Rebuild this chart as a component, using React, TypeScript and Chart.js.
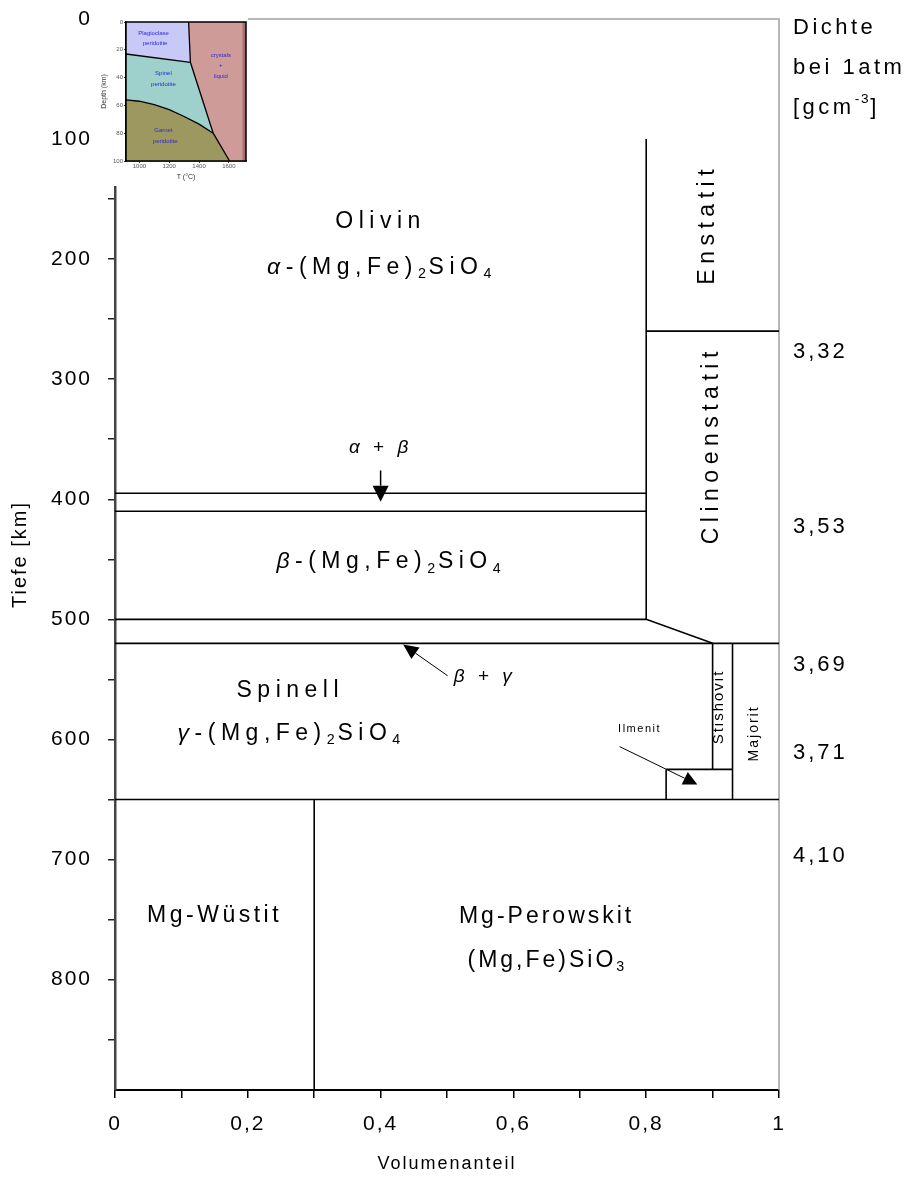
import React, { useEffect, useRef } from 'react';
import { Chart, registerables } from 'chart.js';

Chart.register(...registerables);

const FONT = '"Liberation Sans", Arial, sans-serif';

// ---------- main diagram: axes ----------
const xTickValues = [0, 0.1, 0.2, 0.3, 0.4, 0.5, 0.6, 0.7, 0.8, 0.9, 1];
const xTickLabels = ['0', '', '0,2', '', '0,4', '', '0,6', '', '0,8', '', '1'];
const yTickValues = [0, 50, 100, 150, 200, 250, 300, 350, 400, 450, 500, 550, 600, 650, 700, 750, 800, 850];
const yTickLabels = ['0', '', '100', '', '200', '', '300', '', '400', '', '500', '', '600', '', '700', '', '800', ''];
const depthMax = 892;

// ---------- phase boundaries [Volumenanteil, Tiefe km] ----------
const olivinBetaTop = [[0, 395], [0.8, 395]];
const olivinBetaBottom = [[0, 410], [0.8, 410]];
const betaGammaTop = [[0, 500], [0.8, 500], [0.9, 520]];
const betaGammaBottom = [[0, 520], [1, 520]];
const lowerMantleTop = [[0, 650], [1, 650]];
const pyroxeneBoundary = [[0.8, 100], [0.8, 500]];
const enstatitBase = [[0.8, 260], [1, 260]];
const stishovitLeft = [[0.9, 520], [0.9, 625]];
const majoritLeft = [[0.93, 520], [0.93, 650]];
const ilmenitTop = [[0.83, 625], [0.93, 625]];
const ilmenitLeft = [[0.83, 625], [0.83, 650]];
const wuestitRight = [[0.3, 650], [0.3, depthMax]];

const boundarySegments = [
  olivinBetaTop, olivinBetaBottom, betaGammaTop, betaGammaBottom, lowerMantleTop,
  pyroxeneBoundary, enstatitBase, stishovitLeft, majoritLeft, ilmenitTop, ilmenitLeft, wuestitRight,
];

// ---------- density column ----------
const densityLabels = ['3,32', '3,53', '3,69', '3,71', '4,10'];
const densityDepths = [277, 423, 538, 611, 697];
const densityHeader = ['Dichte', 'bei 1atm'];

// ---------- inset (peridotite phase diagram) ----------
const insetTempTicks = [1000, 1200, 1400, 1600];
const insetDepthTicks = [0, 20, 40, 60, 80, 100];
const insetTempMin = 910;
const insetTempMax = 1715;
const plagioclaseField = [[910, 0], [1330, 0], [1342, 29], [910, 23]];
const spinelField = [[910, 23], [1342, 29], [1495, 80], [1400, 73.5], [1300, 68], [1200, 63], [1100, 59.5], [1000, 57], [910, 56]];
const garnetField = [[910, 56], [1000, 57], [1100, 59.5], [1200, 63], [1300, 68], [1400, 73.5], [1495, 80], [1605, 100], [910, 100]];
const meltField = [[1330, 0], [1715, 0], [1715, 100], [1605, 100], [1495, 80], [1342, 29]];
const meltEdgeStrip = [[1692, 0], [1715, 0], [1715, 100], [1692, 100]];
const plagioclaseBoundary = [[910, 23], [1342, 29]];
const garnetBoundary = [[910, 56], [1000, 57], [1100, 59.5], [1200, 63], [1300, 68], [1400, 73.5], [1495, 80]];
const solidus = [[1330, 0], [1342, 29], [1495, 80], [1605, 100]];

type Seg = { t: string; s?: 'i' | 'sub' | 'sup' };

function segFont(size: number, s?: string) {
  const small = s === 'sub' || s === 'sup';
  const sz = small ? size * 0.62 : size;
  return `${s === 'i' ? 'italic ' : ''}${sz}px ${FONT}`;
}

function drawRich(ctx: any, segs: Seg[], x: number, y: number, size: number, spacing: number, align = 'center', rotate = 0) {
  ctx.save();
  ctx.translate(x, y);
  if (rotate) ctx.rotate(rotate);
  ctx.textBaseline = 'middle';
  ctx.textAlign = 'left';
  ctx.fillStyle = '#000';
  const widths: number[] = [];
  let total = 0;
  for (const g of segs) {
    ctx.font = segFont(size, g.s);
    ctx.letterSpacing = (g.s === 'sub' || g.s === 'sup' ? spacing * 0.5 : spacing) + 'px';
    const w = ctx.measureText(g.t).width;
    widths.push(w);
    total += w;
  }
  let cx = align === 'center' ? -total / 2 : align === 'right' ? -total : 0;
  segs.forEach((g, i) => {
    ctx.font = segFont(size, g.s);
    ctx.letterSpacing = (g.s === 'sub' || g.s === 'sup' ? spacing * 0.5 : spacing) + 'px';
    const dy = g.s === 'sub' ? size * 0.3 : g.s === 'sup' ? -size * 0.38 : 0;
    ctx.fillText(g.t, cx, dy);
    cx += widths[i];
  });
  ctx.restore();
}

function drawArrow(ctx: any, x1: number, y1: number, x2: number, y2: number, headLen: number, headW: number, lw: number) {
  const ang = Math.atan2(y2 - y1, x2 - x1);
  const bx = x2 - headLen * Math.cos(ang);
  const by = y2 - headLen * Math.sin(ang);
  ctx.save();
  ctx.strokeStyle = '#000';
  ctx.fillStyle = '#000';
  ctx.lineWidth = lw;
  ctx.beginPath();
  ctx.moveTo(x1, y1);
  ctx.lineTo(bx, by);
  ctx.stroke();
  ctx.beginPath();
  ctx.moveTo(x2, y2);
  ctx.lineTo(bx + (headW / 2) * Math.sin(ang), by - (headW / 2) * Math.cos(ang));
  ctx.lineTo(bx - (headW / 2) * Math.sin(ang), by + (headW / 2) * Math.cos(ang));
  ctx.closePath();
  ctx.fill();
  ctx.restore();
}

const greekFormula = (g: string): Seg[] => [
  { t: g, s: 'i' }, { t: '-(Mg,Fe)' }, { t: '2', s: 'sub' }, { t: 'SiO' }, { t: '4', s: 'sub' },
];

const zeroPadding = (s: any) => {
  s.paddingTop = 0;
  s.paddingBottom = 0;
  s.paddingLeft = 0;
  s.paddingRight = 0;
};

const mainAnnotations = {
  id: 'mainAnnotations',
  beforeDraw(chart: any) {
    chart.ctx.letterSpacing = '2px';
  },
  beforeDatasetsDraw(chart: any) {
    const { ctx, chartArea: a } = chart;
    ctx.save();
    ctx.strokeStyle = '#a0a0a0';
    ctx.lineWidth = 1.5;
    ctx.beginPath();
    ctx.moveTo(a.left, a.top);
    ctx.lineTo(a.right, a.top);
    ctx.lineTo(a.right, a.bottom);
    ctx.stroke();
    ctx.restore();
  },
  afterDraw(chart: any) {
    const { ctx, chartArea: a } = chart;
    const xs = chart.scales.x;
    const ys = chart.scales.y;
    const px = (v: number) => xs.getPixelForValue(v);
    const py = (v: number) => ys.getPixelForValue(v);
    const big = 23;
    const sp = 5.5;

    drawRich(ctx, [{ t: 'Olivin' }], px(0.4), py(169), big, sp);
    drawRich(ctx, greekFormula('α'), px(0.4), py(207), big, sp);
    drawRich(ctx, [{ t: 'α', s: 'i' }, { t: ' + ' }, { t: 'β', s: 'i' }], px(0.4), py(357), 19, 4);
    drawRich(ctx, greekFormula('β'), px(0.414), py(452), big, sp);
    drawRich(ctx, [{ t: 'β', s: 'i' }, { t: ' + ' }, { t: 'γ', s: 'i' }], px(0.557), py(547.5), 19, 4);
    drawRich(ctx, [{ t: 'Spinell' }], px(0.264), py(559), big, sp);
    drawRich(ctx, greekFormula('γ'), px(0.264), py(595), big, sp);
    drawRich(ctx, [{ t: 'Ilmenit' }], px(0.79), py(591), 11, 1.5);
    drawRich(ctx, [{ t: 'Enstatit' }], px(0.893), py(171), big, sp, 'center', -Math.PI / 2);
    drawRich(ctx, [{ t: 'Clinoenstatit' }], px(0.898), py(355), big, sp, 'center', -Math.PI / 2);
    drawRich(ctx, [{ t: 'Stishovit' }], px(0.91), py(573), 15, 2, 'center', -Math.PI / 2);
    drawRich(ctx, [{ t: 'Majorit' }], px(0.963), py(595), 14, 2, 'center', -Math.PI / 2);
    drawRich(ctx, [{ t: 'Mg-Wüstit' }], px(0.15), py(747), big, 3.5);
    drawRich(ctx, [{ t: 'Mg-Perowskit' }], px(0.65), py(747.5), big, 3);
    drawRich(ctx, [{ t: '(Mg,Fe)SiO' }, { t: '3', s: 'sub' }], px(0.65), py(784), big, 3);

    drawArrow(ctx, px(0.4), py(376), px(0.4), py(402), 16, 16, 1.5);
    drawArrow(ctx, px(0.501), py(547), px(0.434), py(521), 15, 14, 1);
    drawArrow(ctx, px(0.76), py(606), px(0.877), py(637.5), 14, 14, 1);

    const dx = a.right + 14;
    densityLabels.forEach((lab, i) => drawRich(ctx, [{ t: lab }], dx, py(densityDepths[i]), 22, 3, 'left'));
    drawRich(ctx, [{ t: densityHeader[0] }], dx, a.top + 9, 22, 3.5, 'left');
    drawRich(ctx, [{ t: densityHeader[1] }], dx, a.top + 49, 22, 3.5, 'left');
    drawRich(ctx, [{ t: '[gcm' }, { t: '-3', s: 'sup' }, { t: ']' }], dx, a.top + 89, 22, 3.5, 'left');
  },
};

const insetFields = {
  id: 'insetFields',
  beforeDraw(chart: any) {
    const { ctx } = chart;
    ctx.save();
    ctx.fillStyle = '#ffffff';
    ctx.fillRect(0, 0, chart.width, chart.height);
    ctx.restore();
  },
  beforeDatasetsDraw(chart: any) {
    const { ctx } = chart;
    const xs = chart.scales.x;
    const ys = chart.scales.y;
    const poly = (pts: number[][], color: string) => {
      ctx.beginPath();
      pts.forEach(([t, d], i) => {
        const x = xs.getPixelForValue(t);
        const y = ys.getPixelForValue(d);
        if (i === 0) ctx.moveTo(x, y);
        else ctx.lineTo(x, y);
      });
      ctx.closePath();
      ctx.fillStyle = color;
      ctx.fill();
    };
    ctx.save();
    poly(plagioclaseField, '#c9c9f7');
    poly(spinelField, '#9ed0cc');
    poly(garnetField, '#9c985f');
    poly(meltField, '#cf9b98');
    poly(meltEdgeStrip, '#a56f6d');
    ctx.restore();
  },
  afterDatasetsDraw(chart: any) {
    const { ctx, chartArea: a } = chart;
    const xs = chart.scales.x;
    const ys = chart.scales.y;
    ctx.save();
    ctx.strokeStyle = '#000';
    ctx.lineWidth = 1.5;
    ctx.strokeRect(a.left, a.top, a.right - a.left, a.bottom - a.top);
    ctx.fillStyle = '#2a2ad6';
    ctx.font = `6px ${FONT}`;
    ctx.textAlign = 'center';
    ctx.textBaseline = 'middle';
    const t = (s: string, T: number, d: number) => ctx.fillText(s, xs.getPixelForValue(T), ys.getPixelForValue(d));
    t('Plagioclase', 1095, 8);
    t('peridotite', 1105, 15);
    t('Spinel', 1161, 37);
    t('peridotite', 1161, 45);
    t('Garnet', 1161, 78);
    t('peridotite', 1173, 86);
    t('crystals', 1546, 24);
    t('+', 1546, 31);
    t('liquid', 1546, 39);
    ctx.restore();
  },
};

export default function App() {
  const mainRef = useRef<HTMLCanvasElement>(null);
  const insetRef = useRef<HTMLCanvasElement>(null);

  useEffect(() => {
    const main = new Chart(mainRef.current as HTMLCanvasElement, {
      type: 'scatter',
      data: {
        datasets: boundarySegments.map((seg) => ({
          data: seg.map(([x, y]) => ({ x, y })),
          showLine: true,
          borderColor: '#000',
          borderWidth: 1.6,
          pointRadius: 0,
          fill: false,
        })),
      },
      options: {
        responsive: false,
        animation: false,
        events: [],
        layout: { padding: { left: 0, right: 131, top: 19, bottom: 0 } },
        plugins: { legend: { display: false }, tooltip: { enabled: false } },
        scales: {
          x: {
            type: 'linear',
            position: 'bottom',
            min: 0,
            max: 1,
            afterFit: (s: any) => { s.height = 88; zeroPadding(s); },
            afterBuildTicks: (s: any) => { s.ticks = xTickValues.map((v) => ({ value: v })); },
            ticks: {
              callback: (_v: any, i: number) => xTickLabels[i],
              font: { family: FONT, size: 21 },
              color: '#000',
              padding: 14,
              maxRotation: 0,
              autoSkip: false,
            },
            grid: { drawOnChartArea: false, drawTicks: true, tickLength: 8, color: '#000', lineWidth: 1.5 },
            border: { display: true, color: '#000', width: 2 },
            title: {
              display: true,
              text: 'Volumenanteil',
              font: { family: FONT, size: 18 },
              color: '#000',
              padding: { top: 0, bottom: 3 },
            },
          },
          y: {
            type: 'linear',
            reverse: true,
            min: 0,
            max: depthMax,
            afterFit: (s: any) => { s.width = 115; zeroPadding(s); },
            afterBuildTicks: (s: any) => { s.ticks = yTickValues.map((v) => ({ value: v })); },
            ticks: {
              callback: (_v: any, i: number) => yTickLabels[i],
              font: { family: FONT, size: 21 },
              color: '#000',
              padding: 16,
              autoSkip: false,
            },
            grid: { drawOnChartArea: false, drawTicks: true, tickLength: 7, color: '#222', lineWidth: 1.5 },
            border: { display: true, color: '#444', width: 2.5 },
            title: {
              display: true,
              text: 'Tiefe [km]',
              font: { family: FONT, size: 20 },
              color: '#000',
              padding: { top: 8, bottom: 0 },
            },
          },
        },
      },
      plugins: [mainAnnotations],
    } as any);

    const inset = new Chart(insetRef.current as HTMLCanvasElement, {
      type: 'scatter',
      data: {
        datasets: [plagioclaseBoundary, garnetBoundary, solidus].map((seg) => ({
          data: seg.map(([x, y]) => ({ x, y })),
          showLine: true,
          borderColor: '#000',
          borderWidth: 1.3,
          pointRadius: 0,
          fill: false,
        })),
      },
      options: {
        responsive: false,
        animation: false,
        events: [],
        layout: { padding: { left: 0, right: 2, top: 22, bottom: 0 } },
        plugins: { legend: { display: false }, tooltip: { enabled: false } },
        scales: {
          x: {
            type: 'linear',
            min: insetTempMin,
            max: insetTempMax,
            afterFit: (s: any) => { s.height = 25; zeroPadding(s); },
            afterBuildTicks: (s: any) => { s.ticks = insetTempTicks.map((v) => ({ value: v })); },
            ticks: { callback: (v: any) => String(v), font: { family: FONT, size: 6 }, color: '#555', padding: 0, maxRotation: 0, autoSkip: false },
            grid: { drawOnChartArea: false, tickLength: 2, color: '#333' },
            border: { display: true, color: '#000', width: 1.5 },
            title: { display: true, text: 'T (°C)', font: { family: FONT, size: 7 }, color: '#333', padding: { top: 0, bottom: 5 } },
          },
          y: {
            type: 'linear',
            reverse: true,
            min: 0,
            max: 100,
            afterFit: (s: any) => { s.width = 33; zeroPadding(s); },
            afterBuildTicks: (s: any) => { s.ticks = insetDepthTicks.map((v) => ({ value: v })); },
            ticks: { callback: (v: any) => String(v), font: { family: FONT, size: 6 }, color: '#555', padding: 1, autoSkip: false },
            grid: { drawOnChartArea: false, tickLength: 2, color: '#333' },
            border: { display: true, color: '#000', width: 1.5 },
            title: { display: true, text: 'Depth (km)', font: { family: FONT, size: 7 }, color: '#333', padding: { top: 7, bottom: 0 } },
          },
        },
      },
      plugins: [insetFields],
    } as any);

    return () => {
      main.destroy();
      inset.destroy();
    };
  }, []);

  return (
    <div style={{ position: 'absolute', left: 0, top: 0, width: 910, height: 1178, background: '#fff' }}>
      <canvas ref={mainRef} width={910} height={1178} style={{ position: 'absolute', left: 0, top: 0, width: 910, height: 1178 }} />
      <canvas ref={insetRef} width={155} height={186} style={{ position: 'absolute', left: 93, top: 0, width: 155, height: 186 }} />
    </div>
  );
}
